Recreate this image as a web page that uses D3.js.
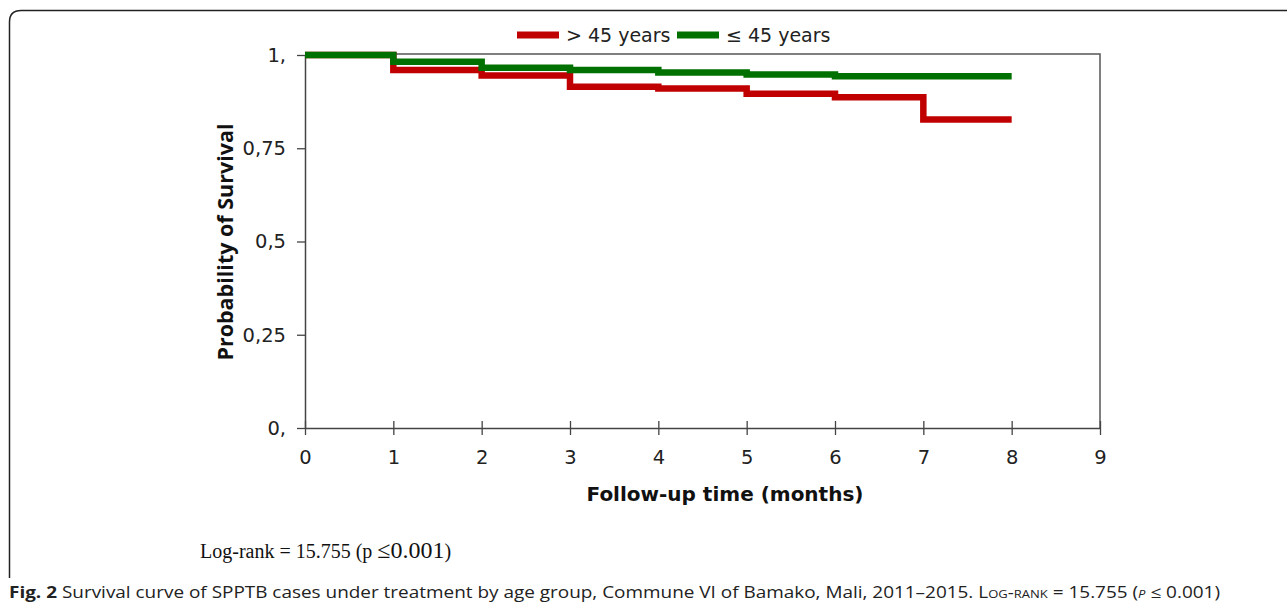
<!DOCTYPE html>
<html>
<head>
<meta charset="utf-8">
<script src="https://cdn.jsdelivr.net/npm/d3@7"></script>
<style>
  body { margin: 0; background: #fff; }
  svg { display: block; }
</style>
</head>
<body>
<div id="chart"></div>
<script>
// survival step data, one value per month (0..8)
const months = [0, 1, 2, 3, 4, 5, 6, 7, 8];
const over45 = [1, 0.960, 0.945, 0.915, 0.910, 0.896, 0.887, 0.827, 0.827];
const under45 = [1, 0.982, 0.966, 0.960, 0.953, 0.948, 0.943, 0.943, 0.943];
const seriesNames = ["> 45 years", "\u2264 45 years"];
const seriesColors = ["#c00000", "#007000"];
const xTicks = [0, 1, 2, 3, 4, 5, 6, 7, 8, 9];
const yTicks = [0, 0.25, 0.5, 0.75, 1];
const yTickLabels = ["0,", "0,25", "0,5", "0,75", "1,"];

const WIDTH = 1287;
const HEIGHT = 607;
const PLOT_LEFT = 305;
const PLOT_RIGHT = 1100;
const PLOT_TOP = 55;
const PLOT_BOTTOM = 428;
const CAPTION_WIDTH = 1211;

let svg = d3.select("#chart")
    .append("svg")
    .attr("width", WIDTH)
    .attr("height", HEIGHT);

// outer figure box, rounded top-left corner
svg.append("path")
    .attr("d", "M9.5,578 L9.5,22 Q9.5,10.5 21,10.5 L1290,10.5")
    .attr("fill", "none")
    .attr("stroke", "#222")
    .attr("stroke-width", 1.5);

let xScale = d3.scaleLinear().domain([0, 9]).range([PLOT_LEFT, PLOT_RIGHT]);
let yScale = d3.scaleLinear().domain([0, 1]).range([PLOT_BOTTOM, PLOT_TOP]);

// frame top and right
svg.append("path")
    .attr("d", `M${PLOT_LEFT},${PLOT_TOP - 1} L${PLOT_RIGHT},${PLOT_TOP - 1} L${PLOT_RIGHT},${PLOT_BOTTOM}`)
    .attr("fill", "none")
    .attr("stroke", "#555")
    .attr("stroke-width", 1.5);

// x axis
let xAxis = svg.append("g")
    .attr("transform", "translate(0," + PLOT_BOTTOM + ")")
    .call(d3.axisBottom(xScale).tickValues(xTicks).tickFormat(d3.format("d")).tickSize(7).tickSizeOuter(0));
xAxis.select(".domain").attr("stroke", "#444").attr("stroke-width", 1.5);
xAxis.selectAll(".tick line").attr("y1", -7).attr("stroke", "#444").attr("stroke-width", 1.3);
xAxis.selectAll(".tick text")
    .attr("y", 22)
    .attr("font-family", "DejaVu Sans, Verdana, sans-serif")
    .attr("font-size", 19.5)
    .attr("fill", "#222");

// y axis
let yAxis = svg.append("g")
    .attr("transform", "translate(" + PLOT_LEFT + ",0)")
    .call(d3.axisLeft(yScale).tickValues(yTicks).tickFormat((d, i) => yTickLabels[i]).tickSize(8).tickSizeOuter(0));
yAxis.select(".domain").attr("stroke", "#444").attr("stroke-width", 1.5);
yAxis.selectAll(".tick line").attr("stroke", "#444").attr("stroke-width", 1.3);
yAxis.selectAll(".tick text")
    .attr("x", -19)
    .attr("font-family", "DejaVu Sans, Verdana, sans-serif")
    .attr("font-size", 19.5)
    .attr("fill", "#222");

// axis titles
svg.append("text")
    .attr("x", 725)
    .attr("y", 501)
    .attr("text-anchor", "middle")
    .attr("font-family", "DejaVu Sans, Verdana, sans-serif")
    .attr("font-weight", "bold")
    .attr("font-size", 20)
    .attr("fill", "#111")
    .text("Follow-up time (months)");

svg.append("text")
    .attr("transform", "translate(233,242)rotate(-90)")
    .attr("text-anchor", "middle")
    .attr("font-family", "Open Sans, sans-serif")
    .attr("font-weight", "bold")
    .attr("font-size", 21.5)
    .attr("fill", "#111")
    .text("Probability of Survival");

// step lines
let stepLine = d3.line()
    .x(d => xScale(d[0]))
    .y(d => yScale(d[1]))
    .curve(d3.curveStepAfter);

let series = [over45, under45];
svg.append("g")
    .selectAll("path")
    .data(series)
    .enter()
    .append("path")
    .attr("d", vals => stepLine(months.map((m, i) => [m, vals[i]])))
    .attr("fill", "none")
    .attr("stroke", (d, i) => seriesColors[i])
    .attr("stroke-width", 6.5)
    .attr("stroke-linejoin", "miter");

// legend
let legendX = [517, 677];
let legend = svg.append("g");
seriesNames.forEach((name, i) => {
    legend.append("line")
        .attr("x1", legendX[i])
        .attr("x2", legendX[i] + 42)
        .attr("y1", 35)
        .attr("y2", 35)
        .attr("stroke", seriesColors[i])
        .attr("stroke-width", 7);
    legend.append("text")
        .attr("x", legendX[i] + 49)
        .attr("y", 42)
        .attr("font-family", "DejaVu Sans, Verdana, sans-serif")
        .attr("font-size", 19)
        .attr("fill", "#222")
        .text(name);
});

// log-rank note
let note = svg.append("text")
    .attr("x", 200)
    .attr("y", 558)
    .attr("font-family", "Liberation Serif, Times New Roman, serif")
    .attr("font-size", 20)
    .attr("fill", "#111");
note.append("tspan").text("Log-rank = 15.755 (p ");
note.append("tspan").attr("font-size", 24).text("\u22640.001");
note.append("tspan").text(")");

// caption
let caption = svg.append("text")
    .attr("x", 9)
    .attr("y", 598)
    .attr("font-family", "Open Sans, sans-serif")
    .attr("font-size", 16)
    .attr("fill", "#222");
caption.append("tspan").attr("font-weight", "bold").text("Fig. 2");
caption.append("tspan").text(" Survival curve of SPPTB cases under treatment by age group, Commune VI of Bamako, Mali, 2011\u20132015. ");
caption.append("tspan").attr("font-variant", "small-caps").text("Log-rank");
caption.append("tspan").text(" = 15.755 (");
caption.append("tspan").attr("font-style", "italic").attr("font-variant", "small-caps").text("p");
caption.append("tspan").text(" \u2264 0.001)");

// stretch caption to the reference width
let capLen = caption.node().getComputedTextLength();
caption.attr("textLength", CAPTION_WIDTH).attr("lengthAdjust", "spacingAndGlyphs");
if (capLen < 1) caption.attr("textLength", null);
</script>
</body>
</html>
